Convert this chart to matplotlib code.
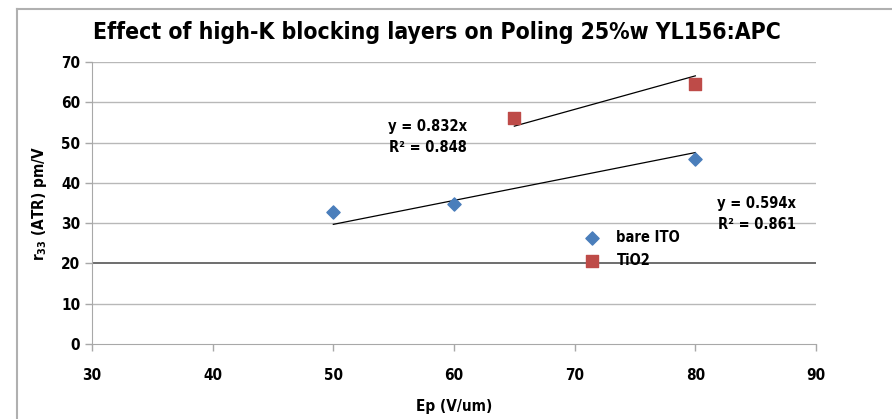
import matplotlib
matplotlib.use("Agg")
import matplotlib.pyplot as plt
from matplotlib.lines import Line2D
import numpy as np

plt.rcParams['font.family'] = ['DejaVu Sans']
plt.rcParams['font.weight'] = 'bold'
plt.rcParams['font.stretch'] = 'condensed'

# Data
bare_x = [50, 60, 80]
bare_y = [32.8, 34.8, 45.9]
tio2_x = [65, 80]
tio2_y = [56.2, 64.5]
bare_slope = 0.594
tio2_slope = 0.832
bare_label = "y = 0.594x\nR² = 0.861"
tio2_label = "y = 0.832x\nR² = 0.848"
x_ticks = [30, 40, 50, 60, 70, 80, 90]
y_ticks = [0, 10, 20, 30, 40, 50, 60, 70]

fig = plt.figure(figsize=(8.92, 4.19), dpi=100)
ax = fig.add_axes([92/892, 1-344/419, (816-92)/892, (344-62)/419])

# outer chart frame (top & left)
fig.add_artist(Line2D([17/892, 1], [1-9/419, 1-9/419], color='#b0b0b0', lw=1.5, transform=fig.transFigure))
fig.add_artist(Line2D([17/892, 17/892], [0, 1-9/419], color='#b0b0b0', lw=1.5, transform=fig.transFigure))

ax.set_xlim(30, 90)
ax.set_ylim(0, 70)
ax.set_xticks(x_ticks)
ax.set_yticks(y_ticks)
for y in y_ticks[1:]:
    ax.axhline(y, color='#555555' if y == 20 else '#b8b8b8', lw=1.2 if y == 20 else 1.0, zorder=0)

for s in ['top', 'right']:
    ax.spines[s].set_visible(False)
ax.spines['left'].set_color('#a8a8a8')
ax.spines['bottom'].set_color('#a8a8a8')
ax.tick_params(axis='both', colors='#a8a8a8', length=5, width=1, labelcolor='black', labelsize=11)
ax.tick_params(axis='x', pad=12)

# trendlines
bx = np.array([min(bare_x), max(bare_x)])
ax.plot(bx, bare_slope * bx, color='black', lw=0.9, zorder=2)
tx = np.array([min(tio2_x), max(tio2_x)])
ax.plot(tx, tio2_slope * tx, color='black', lw=0.9, zorder=2)

ax.scatter(bare_x, bare_y, marker='D', s=45, color='#4a7ebb', label='bare ITO', zorder=3)
ax.scatter(tio2_x, tio2_y, marker='s', s=80, color='#be4b48', label='TiO2', zorder=3)

ax.text(57.8, 51.4, tio2_label, ha='center', va='center', fontsize=10.5, fontweight='bold', linespacing=1.45)
ax.text(85.1, 32.3, bare_label, ha='center', va='center', fontsize=10.5, fontweight='bold', linespacing=1.45)

ax.legend(loc='upper left', bbox_to_anchor=(0.662, 0.426), frameon=False, fontsize=10.5,
          handletextpad=0.7, labelspacing=0.55, borderaxespad=0)

ax.set_xlabel('Ep (V/um)', fontsize=11, fontweight='bold', labelpad=12)
ax.set_ylabel('r$_{33}$ (ATR) pm/V', fontsize=11, fontweight='bold', labelpad=9)
fig.text(437/892, 1-33/419, 'Effect of high-K blocking layers on Poling 25%w YL156:APC',
         ha='center', va='center', fontsize=16.5, fontweight='bold')

fig.savefig('out.png', dpi=100)
